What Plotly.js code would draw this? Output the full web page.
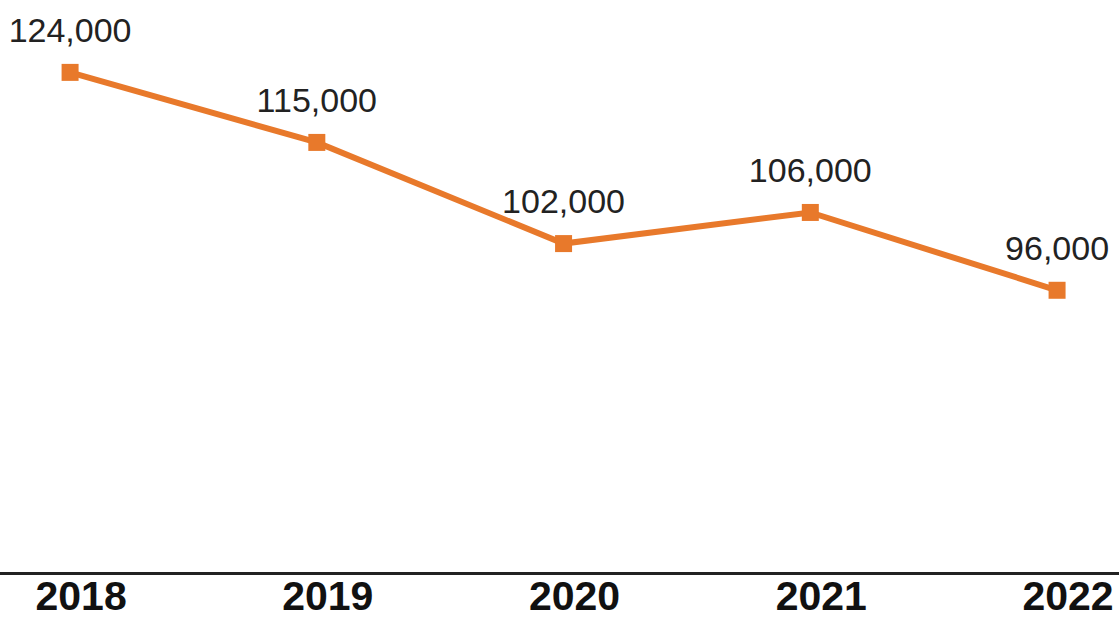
<!DOCTYPE html>
<html>
<head>
<meta charset="utf-8">
<script src="https://cdn.plot.ly/plotly-3.0.1.min.js"></script>
<style>html,body{margin:0;padding:0;background:#fff;}#chart{width:1119px;height:619px;}</style>
</head>
<body>
<div id="chart"></div>
<script>
const years = ["2018", "2019", "2020", "2021", "2022"];
const values = [124000, 115000, 102000, 106000, 96000];
const labels = ["124,000", "115,000", "102,000", "106,000", "96,000"];

const orange = "#E8792B";

const lineTrace = {
  x: years,
  y: values,
  type: "scatter",
  mode: "lines+markers",
  line: {color: orange, width: 6},
  marker: {symbol: "square", size: 17, color: orange},
  hoverinfo: "skip",
  cliponaxis: false
};

// value labels: invisible large markers push the text above the points
const labelTrace = {
  x: years,
  y: values,
  type: "scatter",
  mode: "markers+text",
  text: labels,
  textposition: "top center",
  textfont: {family: "Liberation Sans, Arial, sans-serif", size: 34, color: "#222222"},
  marker: {size: 34, color: "rgba(0,0,0,0)"},
  hoverinfo: "skip",
  cliponaxis: false
};

const layout = {
  width: 1119,
  height: 619,
  margin: {l: 0, r: 0, t: 0, b: 47},
  paper_bgcolor: "#ffffff",
  plot_bgcolor: "#ffffff",
  showlegend: false,
  xaxis: {
    type: "category",
    range: [-0.284, 4.251],
    showgrid: false,
    zeroline: false,
    showline: true,
    linecolor: "#222222",
    linewidth: 2.5,
    ticks: "",
    ticklabelstandoff: -14,
    ticklabelshift: 11,
    tickfont: {family: "Liberation Sans, Arial, sans-serif", size: 41, color: "#111111", weight: "bold"},
    automargin: false,
    fixedrange: true
  },
  yaxis: {
    range: [59800, 133300],
    showticklabels: false,
    showline: false,
    ticks: "",
    showgrid: false,
    zeroline: false,
    fixedrange: true
  }
};

Plotly.newPlot("chart", [lineTrace, labelTrace], layout, {displayModeBar: false, staticPlot: true});
</script>
</body>
</html>
